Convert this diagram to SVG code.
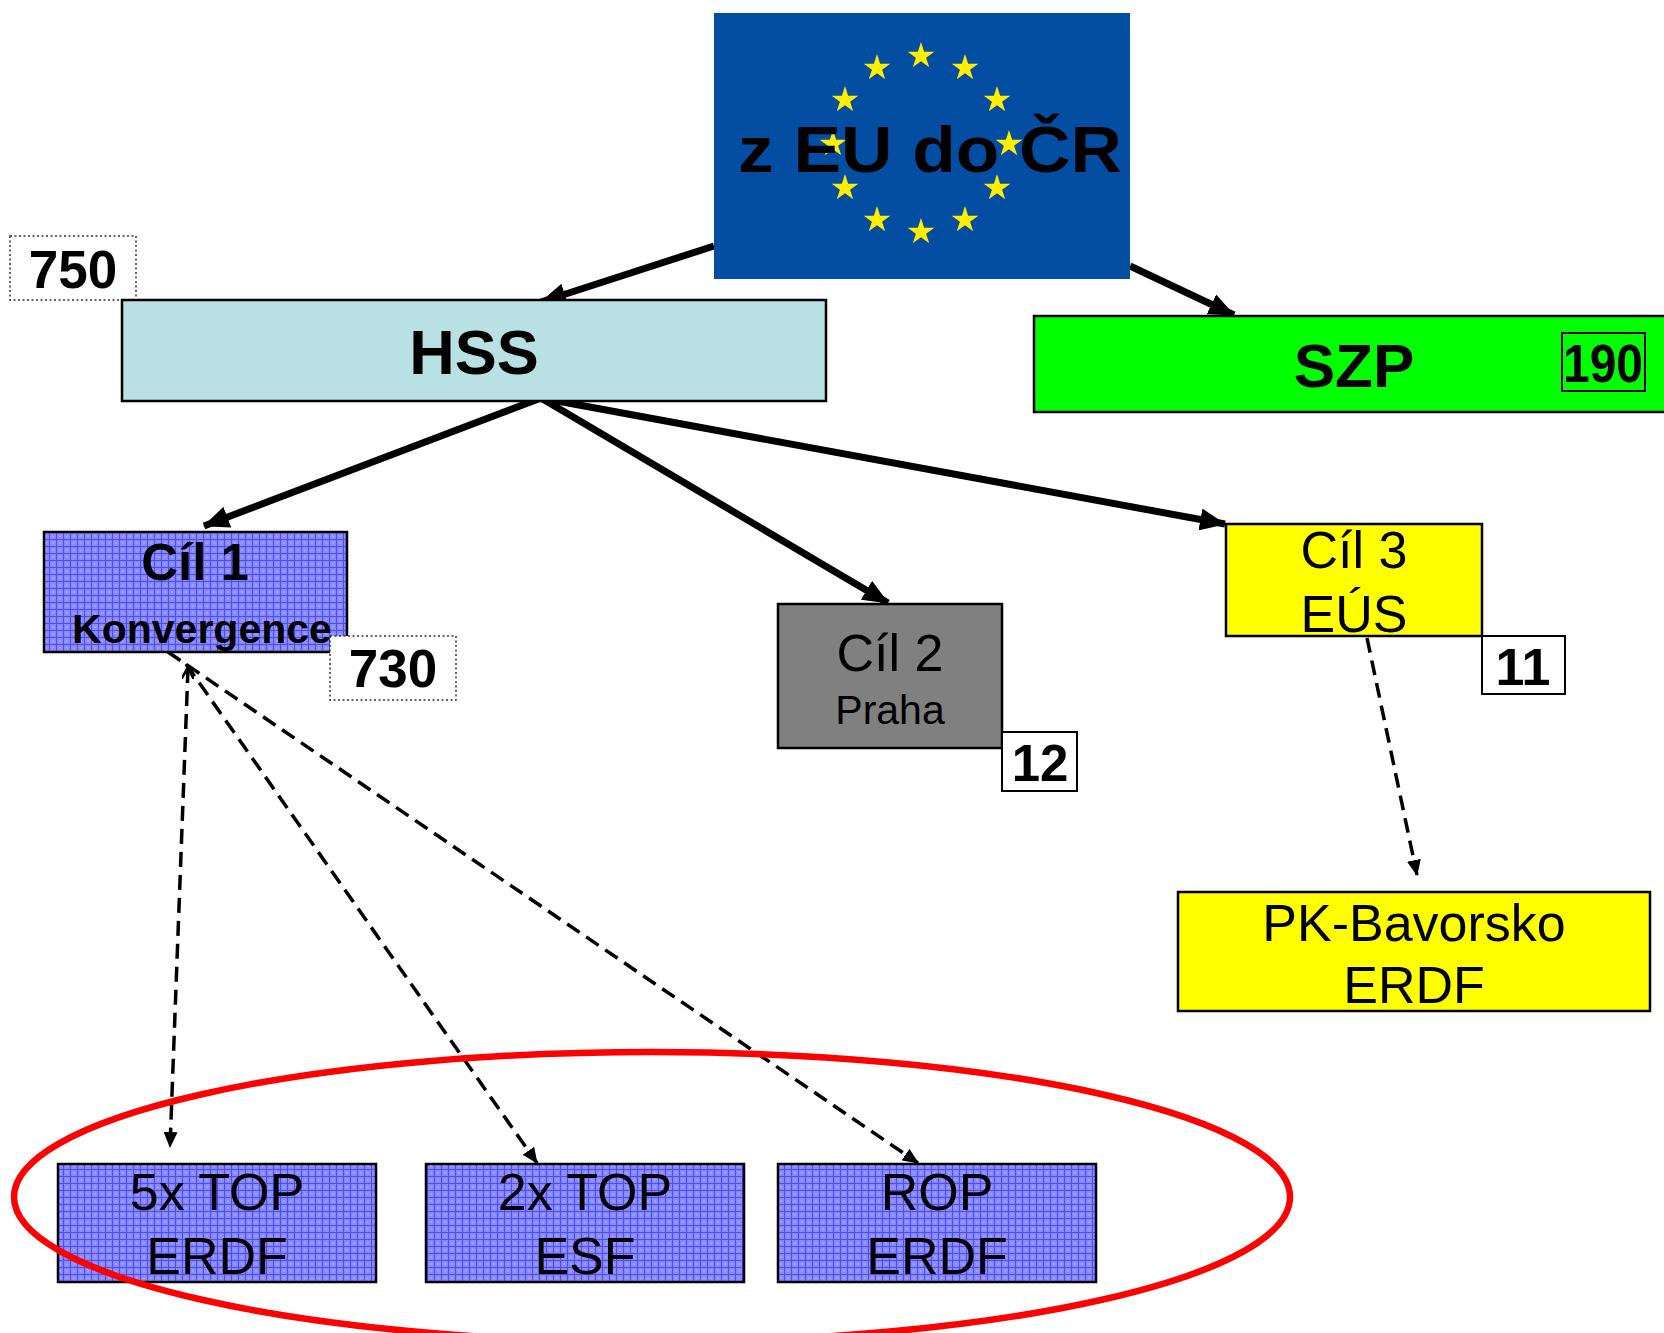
<svg xmlns="http://www.w3.org/2000/svg" width="1664" height="1333" viewBox="0 0 1664 1333">
<style>
text{font-family:"Liberation Sans",Arial,sans-serif;fill:#000;text-anchor:middle}
.b{font-weight:bold}
.box{stroke:#000;stroke-width:2.5}
.num{fill:#fff;stroke:#000;stroke-width:2}
.dot{fill:#fff;stroke:#333;stroke-width:1.5;stroke-dasharray:2 2.5}
.solid{fill:none;stroke:#000;stroke-width:7;marker-end:url(#ah)}
.dash{fill:none;stroke:#000;stroke-width:3.5;stroke-dasharray:15 8;marker-end:url(#dh)}
</style>
<defs>
<marker id="ah" markerUnits="userSpaceOnUse" viewBox="0 0 26 22" markerWidth="26" markerHeight="22" refX="25" refY="11" orient="auto">
<path d="M0,0 L26,11 L0,22 Z" fill="#000"/>
</marker>
<marker id="dh" markerUnits="userSpaceOnUse" viewBox="0 0 16 14" markerWidth="16" markerHeight="14" refX="15" refY="7" orient="auto">
<path d="M0,0 L16,7 L0,14 Z" fill="#000"/>
</marker>
<marker id="dt" markerUnits="userSpaceOnUse" viewBox="0 0 12 12" markerWidth="12" markerHeight="12" refX="11" refY="6" orient="auto-start-reverse">
<path d="M0,0 L12,6 L0,12" fill="none" stroke="#000" stroke-width="2.5"/>
</marker>
<pattern id="grid" patternUnits="userSpaceOnUse" width="7" height="7">
<rect width="7" height="7" fill="#8a8aff"/>
<path d="M0,0.5 H7 M0.5,0 V7" stroke="#4a4aff" stroke-width="1"/>
<rect x="3.5" y="3.5" width="1" height="1" fill="#e0e0ff"/>
</pattern>
<path id="star" d="M0,-14 L3.14,-4.33 L13.31,-4.33 L5.09,1.65 L8.23,11.33 L0,5.35 L-8.23,11.33 L-5.09,1.65 L-13.31,-4.33 L-3.14,-4.33 Z" fill="#ffee00"/>
</defs>

<g id="connectors">
<path class="solid" d="M714,246 L541,302"/>
<path class="solid" d="M1130,266 L1234,315"/>
<path class="solid" d="M541,398 L204,526"/>
<path class="solid" d="M541,398 L888,603"/>
<path class="solid" d="M541,398 L1225,524"/>
<path class="dash" d="M188,668 L170,1147" marker-start="url(#dt)"/>
<path class="dash" d="M186,664 L537,1163"/>
<path class="dash" d="M168,652 L918,1163"/>
<path class="dash" d="M1367,638 L1417,875"/>
</g>

<g id="node-eu">
<rect x="714" y="13" width="416" height="266" fill="#034ea2"/>
<use href="#star" x="921" y="56"/>
<use href="#star" x="965" y="68"/>
<use href="#star" x="997" y="100"/>
<use href="#star" x="1009" y="144"/>
<use href="#star" x="997" y="188"/>
<use href="#star" x="965" y="220"/>
<use href="#star" x="921" y="232"/>
<use href="#star" x="877" y="220"/>
<use href="#star" x="845" y="188"/>
<use href="#star" x="833" y="144"/>
<use href="#star" x="845" y="100"/>
<use href="#star" x="877" y="68"/>
<text class="b" x="930" y="172" font-size="64" textLength="384" lengthAdjust="spacingAndGlyphs">z EU do ČR</text>
</g>

<g id="node-750">
<rect class="dot" x="10" y="236" width="126" height="64"/>
<text class="b" x="73" y="288" font-size="53">750</text>
</g>

<g id="node-hss">
<rect class="box" x="122" y="300" width="704" height="101" fill="#b9e0e2"/>
<text class="b" x="474" y="374" font-size="63">HSS</text>
</g>

<g id="node-szp">
<rect class="box" x="1034" y="316" width="640" height="96" fill="#00ff00"/>
<text class="b" x="1354" y="387" font-size="62">SZP</text>
<rect x="1562" y="333" width="83" height="58" fill="none" stroke="#000" stroke-width="2"/>
<text class="b" x="1603" y="382" font-size="53" textLength="80" lengthAdjust="spacingAndGlyphs">190</text>
</g>

<g id="node-cil1">
<rect class="box" x="44" y="532" width="303" height="120" fill="url(#grid)"/>
<text class="b" x="195" y="580" font-size="51">Cíl 1</text>
<text class="b" x="202" y="643" font-size="41">Konvergence</text>
</g>

<g id="node-730">
<rect class="dot" x="330" y="636" width="126" height="64"/>
<text class="b" x="393" y="687" font-size="53">730</text>
</g>

<g id="node-cil2">
<rect class="box" x="778" y="604" width="224" height="144" fill="#808080"/>
<text x="890" y="671" font-size="52">Cíl 2</text>
<text x="890" y="724" font-size="41">Praha</text>
</g>

<g id="node-12">
<rect class="num" x="1002" y="732" width="75" height="59"/>
<text class="b" x="1040" y="781" font-size="51">12</text>
</g>

<g id="node-cil3">
<rect class="box" x="1226" y="524" width="256" height="112" fill="#ffff00"/>
<text x="1354" y="568" font-size="52">Cíl 3</text>
<text x="1354" y="632" font-size="52">EÚS</text>
</g>

<g id="node-11">
<rect class="num" x="1482" y="636" width="83" height="58"/>
<text class="b" x="1523" y="685" font-size="52">11</text>
</g>

<g id="node-pk">
<rect class="box" x="1178" y="892" width="472" height="119" fill="#ffff00"/>
<text x="1414" y="941" font-size="52">PK-Bavorsko</text>
<text x="1414" y="1003" font-size="52">ERDF</text>
</g>

<g id="node-5xtop">
<rect class="box" x="58" y="1164" width="318" height="118" fill="url(#grid)"/>
<text x="217" y="1210" font-size="52">5x TOP</text>
<text x="217" y="1274" font-size="52">ERDF</text>
</g>

<g id="node-2xtop">
<rect class="box" x="426" y="1164" width="318" height="118" fill="url(#grid)"/>
<text x="585" y="1210" font-size="52">2x TOP</text>
<text x="585" y="1274" font-size="52">ESF</text>
</g>

<g id="node-rop">
<rect class="box" x="778" y="1164" width="318" height="118" fill="url(#grid)"/>
<text x="937" y="1210" font-size="52">ROP</text>
<text x="937" y="1274" font-size="52">ERDF</text>
</g>

<g id="highlight">
<ellipse cx="652" cy="1197" rx="638" ry="145" fill="none" stroke="#ff0000" stroke-width="6.5"/>
</g>
</svg>
